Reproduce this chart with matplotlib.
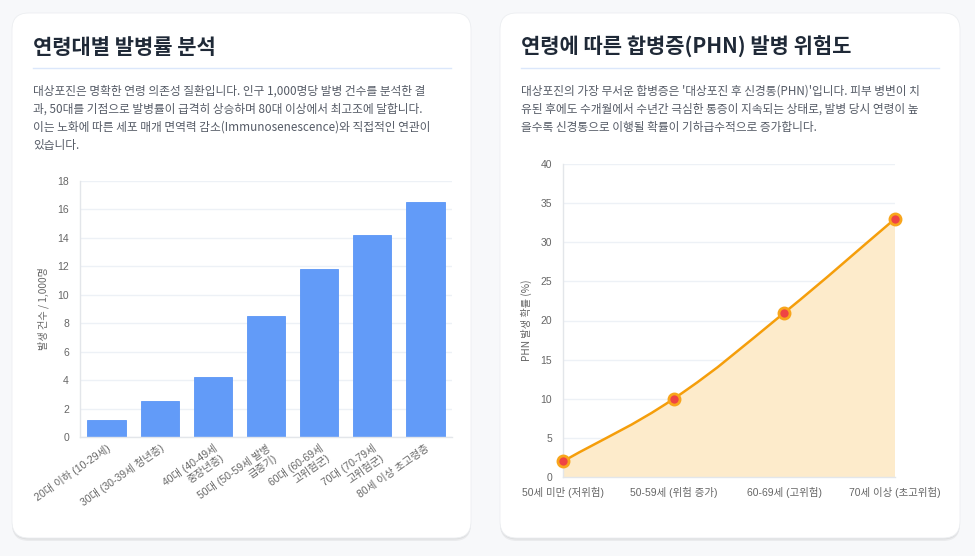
import matplotlib
matplotlib.use("Agg")
import matplotlib.pyplot as plt
import numpy as np
from matplotlib.patches import FancyBboxPatch, PathPatch
from matplotlib.path import Path

plt.rcParams["font.family"] = ["Noto Sans CJK KR", "DejaVu Sans"]
TICK_FONT = ["Liberation Sans", "Noto Sans CJK KR"]

# ---------------- data ----------------
age_labels = [
    "20대 이하 (10-29세)",
    "30대 (30-39세 청년층)",
    "40대 (40-49세\n중장년층)",
    "50대 (50-59세 발병\n급증기)",
    "60대 (60-69세\n고위험군)",
    "70대 (70-79세\n고위험군)",
    "80세 이상 초고령층",
]
incidence = [1.2, 2.5, 4.2, 8.5, 11.8, 14.2, 16.5]

phn_labels = ["50세 미만 (저위험)", "50-59세 (위험 증가)", "60-69세 (고위험)", "70세 이상 (초고위험)"]
phn_risk = [2, 10, 21, 33]

title_left = "연령대별 발병률 분석"
desc_left = [
    "대상포진은 명확한 연령 의존성 질환입니다. 인구 1,000명당 발병 건수를 분석한 결",
    "과, 50대를 기점으로 발병률이 급격히 상승하며 80대 이상에서 최고조에 달합니다.",
    "이는 노화에 따른 세포 매개 면역력 감소(Immunosenescence)와 직접적인 연관이",
    "있습니다.",
]
title_right = "연령에 따른 합병증(PHN) 발병 위험도"
desc_right = [
    "대상포진의 가장 무서운 합병증은 '대상포진 후 신경통(PHN)'입니다. 피부 병변이 치",
    "유된 후에도 수개월에서 수년간 극심한 통증이 지속되는 상태로, 발병 당시 연령이 높",
    "을수록 신경통으로 이행될 확률이 기하급수적으로 증가합니다.",
]

# ---------------- style ----------------
W, H = 975, 556
BG = "#f7f8fa"
TITLE = "#1f2937"
TEXT = "#555b66"
TICK = "#666666"
GRID = "#edf1f6"
AXIS = "#e3e6ea"
BAR = "#629bf8"
LINE = "#f59e0b"
FILL = "#fdebcb"
POINT = "#ef4444"


def fx(px):
    return px / W


def fy(py):
    return 1 - py / H


fig = plt.figure(figsize=(W / 100, H / 100), dpi=100)
fig.patch.set_facecolor(BG)


def card(x0, y0, x1, y1):
    for off, a in ((3, 0.05), (1.5, 0.05)):
        sh = FancyBboxPatch((fx(x0), fy(y1 + off)), fx(x1 - x0), (y1 - y0) / H,
                            boxstyle="round,pad=0,rounding_size=0.017",
                            mutation_aspect=W / H, transform=fig.transFigure,
                            facecolor="black", edgecolor="none", alpha=a, zorder=0)
        fig.patches.append(sh)
    p = FancyBboxPatch((fx(x0), fy(y1)), fx(x1 - x0), (y1 - y0) / H,
                       boxstyle="round,pad=0,rounding_size=0.017",
                       mutation_aspect=W / H, transform=fig.transFigure,
                       facecolor="white", edgecolor="#eceef1", lw=0.6, zorder=1)
    fig.patches.append(p)


def header(x0, x1, title, lines):
    fig.text(fx(x0), fy(47), title, fontsize=15.1, fontweight="bold",
             color=TITLE, ha="left", va="center", zorder=3)
    fig.add_artist(plt.Line2D([fx(x0), fx(x1)], [fy(68), fy(68)],
                              color="#dbe7fb", lw=1, transform=fig.transFigure, zorder=3))
    for i, ln in enumerate(lines):
        fig.text(fx(x0), fy(91 + 18.2 * i), ln, fontsize=8.45, color=TEXT,
                 ha="left", va="center", zorder=3)


def style_axes(ax):
    ax.set_facecolor("none")
    for s in ("top", "right"):
        ax.spines[s].set_visible(False)
    for s in ("left", "bottom"):
        ax.spines[s].set_color(AXIS)
        ax.spines[s].set_linewidth(1)
    ax.grid(axis="y", color=GRID, lw=1)
    ax.set_axisbelow(True)
    ax.tick_params(axis="both", colors=TICK, labelsize=7.5, length=0)
    ax.tick_params(axis="y", pad=8)
    for lbl in ax.get_yticklabels():
        lbl.set_family(TICK_FONT)


card(12, 13, 471, 538)
card(500, 13, 960, 538)
header(33, 451, title_left, desc_left)
header(521, 939, title_right, desc_right)

# ---------------- left: bar chart ----------------
ax1 = fig.add_axes([fx(80), fy(437), fx(452 - 80), (437 - 181) / H], zorder=4)
xs = np.arange(len(incidence))
ax1.bar(xs, incidence, width=0.72, color=BAR, edgecolor="#5b96f6", lw=0.6)
ax1.set_xlim(-0.5, len(incidence) - 0.5)
ax1.set_ylim(0, 18)
ax1.set_yticks(np.arange(0, 19, 2))
ax1.set_xticks(xs)
ax1.set_xticklabels(age_labels, rotation=35, ha="right", va="top",
                    rotation_mode="anchor", multialignment="right", fontsize=7,
                    linespacing=1.1, family=TICK_FONT)
style_axes(ax1)
ax1.tick_params(axis="x", pad=4)
ax1.set_ylabel("발생 건수 / 1,000명", fontsize=7.3, color=TICK, labelpad=6)

# ---------------- right: smooth area line ----------------
ax2 = fig.add_axes([fx(563), fy(477), fx(895 - 563), (477 - 164) / H], zorder=4)
n = len(phn_risk)
ax2.set_xlim(0, n - 1)
ax2.set_ylim(0, 40)
ax2.set_yticks(np.arange(0, 41, 5))
ax2.set_xticks(range(n))
ax2.set_xticklabels(phn_labels, fontsize=7.5, family=TICK_FONT)
style_axes(ax2)
ax2.tick_params(axis="x", pad=7)
ax2.set_ylabel("PHN 발생 확률 (%)", fontsize=7.3, color=TICK, labelpad=6)

# Chart.js style bezier (tension 0.4) computed in pixel space
sx = (895 - 563) / (n - 1)
sy = (477 - 164) / 40
pts = np.array([[i * sx, v * sy] for i, v in enumerate(phn_risk)])
tension = 0.4
verts = [tuple(pts[0])]
codes = [Path.MOVETO]
ctrl = []
for i in range(n):
    prev = pts[i - 1] if i > 0 else pts[i]
    nxt = pts[i + 1] if i < n - 1 else pts[i]
    d01 = np.hypot(*(pts[i] - prev))
    d12 = np.hypot(*(nxt - pts[i]))
    tot = d01 + d12
    s01 = d01 / tot if tot else 0
    s12 = d12 / tot if tot else 0
    c_prev = pts[i] - tension * s01 * (nxt - prev)
    c_next = pts[i] + tension * s12 * (nxt - prev)
    ctrl.append((c_prev, c_next))
for i in range(1, n):
    verts += [tuple(ctrl[i - 1][1]), tuple(ctrl[i][0]), tuple(pts[i])]
    codes += [Path.CURVE4] * 3
verts = [(x / sx, y / sy) for x, y in verts]

curve = Path(verts, codes)
fill_verts = verts + [(n - 1, 0), (0, 0), verts[0]]
fill_codes = codes + [Path.LINETO, Path.LINETO, Path.CLOSEPOLY]
ax2.add_patch(PathPatch(Path(fill_verts, fill_codes), facecolor=FILL,
                        edgecolor="none", zorder=2))
ax2.add_patch(PathPatch(curve, facecolor="none", edgecolor=LINE, lw=1.8, zorder=3))
ax2.plot(range(n), phn_risk, ls="none", marker="o", ms=8, mfc=POINT,
         mec="#f8a51c", mew=2, zorder=5, clip_on=False)

fig.savefig("out.png", dpi=100, facecolor=BG)
